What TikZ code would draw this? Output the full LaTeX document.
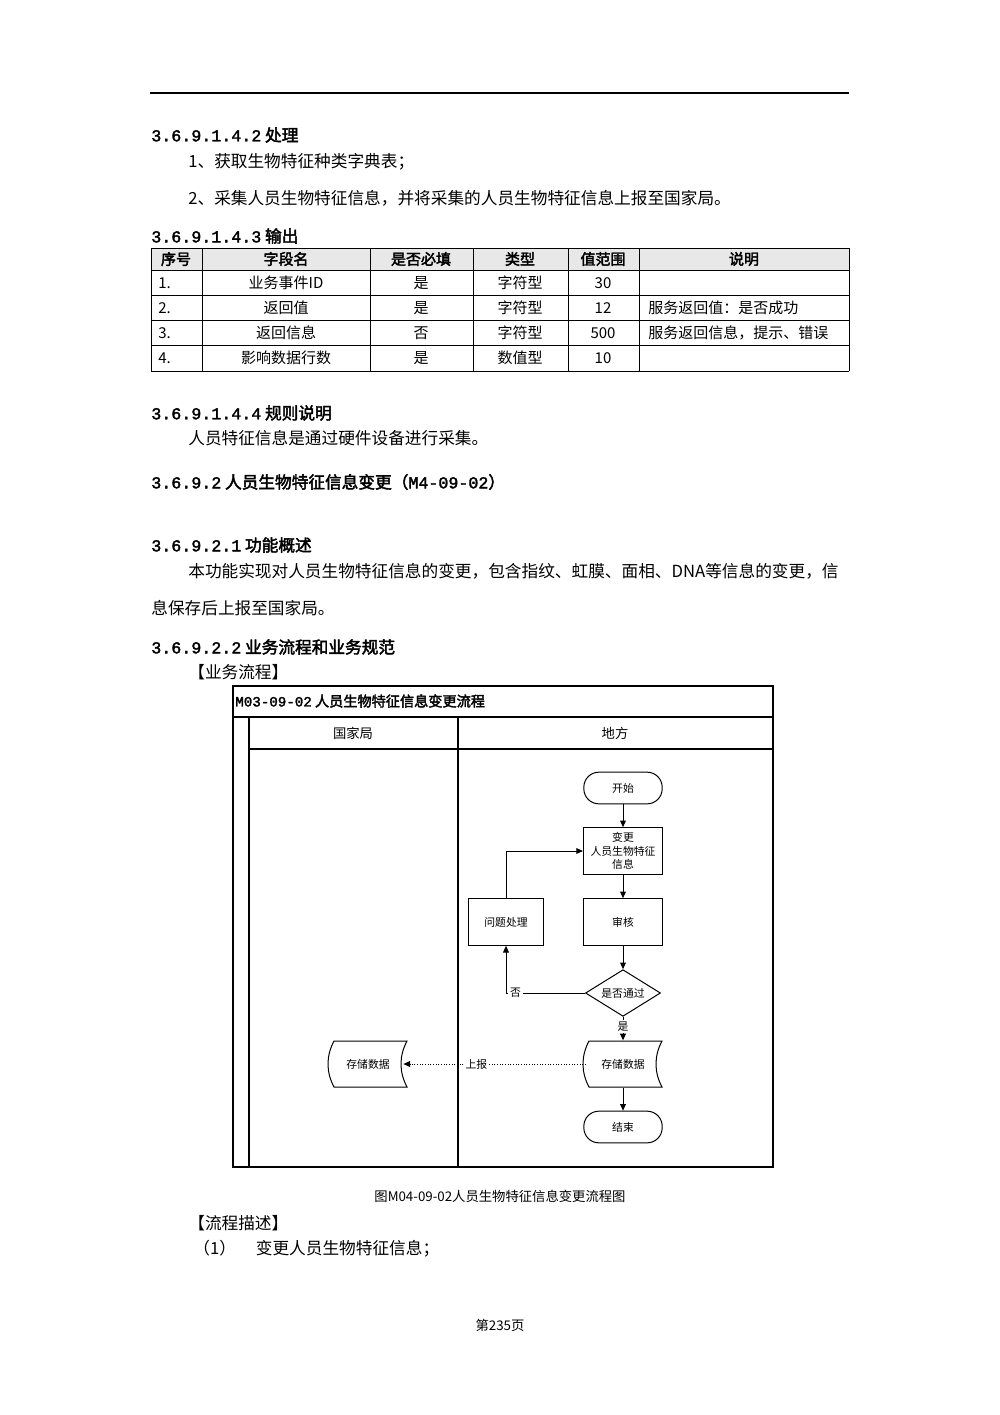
\documentclass[tikz,border=0pt]{standalone}
\usepackage{fontspec}
\setmainfont[BoldFont={Noto Sans CJK SC},BoldFeatures={FakeBold=2.5}]{Noto Sans CJK SC}
\newfontfamily\hmono[BoldFont={Liberation Mono},BoldFeatures={FakeBold=2}]{Liberation Mono}
\usetikzlibrary{shapes.geometric,arrows.meta}
\tikzset{
 txt/.style={anchor=west,inner sep=0pt,font=\fontsize{10}{12}\selectfont},
 hd/.style={anchor=west,inner sep=0pt,font=\fontsize{10}{12}\selectfont\bfseries},
 cell/.style={inner sep=0pt,font=\fontsize{9}{11}\selectfont},
 fc/.style={draw,line width=0.6pt,fill=white,inner sep=1pt,font=\fontsize{6.5}{8}\selectfont,align=center},
 pbox/.style={fc,minimum width=47.5pt,minimum height=28pt},
 term/.style={fc,rounded corners=9pt,minimum width=47pt,minimum height=19pt},
 arr/.style={-{Triangle[length=4pt,width=3.5pt]},line width=0.6pt},
 lbl/.style={inner sep=1pt,font=\fontsize{6.5}{8}\selectfont,fill=white},
}
\begin{document}
\begin{tikzpicture}[x=0.6pt,y=-0.6pt]
\useasboundingbox (0,0) rectangle (1000,1415);
\draw[line width=0.8pt] (150,93) -- (849,93);
\node[hd] (h1) at (151,135) {{\hmono 3.6.9.1.4.2} 处理};
\node[txt] (p1) at (188,162) {1、获取生物特征种类字典表；};
\node[txt] (p2) at (188,198) {2、采集人员生物特征信息，并将采集的人员生物特征信息上报至国家局。};
\node[hd] (h2) at (151,236) {{\hmono 3.6.9.1.4.3} 输出};
% table
\fill[gray!18] (151,248) rectangle (849,270);
\foreach \y in {248,270,295,320,345,371} \draw[line width=0.6pt] (151,\y) -- (849,\y);
\foreach \x in {151,202,370,473,568,639,849} \draw[line width=0.6pt] (\x,248) -- (\x,371);
\foreach \x/\t in {176/序号,286/字段名,421/是否必填,520/类型,603/值范围,744/说明}
  \node[cell,font=\fontsize{9}{11}\selectfont\bfseries] at (\x,259) {\t};
\foreach \y/\a/\b/\c/\d/\e/\f in {283/1./业务事件ID/是/字符型/30/,308/2./返回值/是/字符型/12/服务返回值：是否成功,333/3./返回信息/否/字符型/500/服务返回信息，提示、错误,358/4./影响数据行数/是/数值型/10/}{
  \node[cell,anchor=west] at (158,\y) {\a};
  \node[cell] at (286,\y) {\b};
  \node[cell] at (421,\y) {\c};
  \node[cell] at (520,\y) {\d};
  \node[cell] at (603,\y) {\e};
  \node[cell,anchor=west] at (648,\y) {\f};
}
\node[hd] (h3) at (151,413) {{\hmono 3.6.9.1.4.4} 规则说明};
\node[txt] (p3) at (188,438) {人员特征信息是通过硬件设备进行采集。};
\node[hd] (h4) at (151,482) {{\hmono 3.6.9.2} 人员生物特征信息变更（{\hmono M4-09-02}）};
\node[hd] (h5) at (151,545) {{\hmono 3.6.9.2.1} 功能概述};
\node[txt] (p4) at (188,571) {\makebox[403pt][s]{本功能实现对人员生物特征信息的变更，包含指纹、虹膜、面相、DNA等信息的变更，信}};
\node[txt] (p5) at (151,608) {息保存后上报至国家局。};
\node[hd] (h6) at (151,647) {{\hmono 3.6.9.2.2} 业务流程和业务规范};
\node[txt] (p6) at (188,672) {【业务流程】};
% flowchart frame
\draw[line width=0.7pt] (233,686) rectangle (773,1167);
\draw[line width=0.7pt] (233,717) -- (773,717);
\draw[line width=0.7pt] (249,749) -- (773,749);
\draw[line width=0.7pt] (249,717) -- (249,1167);
\draw[line width=0.7pt] (458,717) -- (458,1167);
\node[anchor=west,inner sep=0pt,font=\fontsize{8.5}{10}\selectfont\bfseries] (ttl) at (235,701) {{\hmono M03-09-02} 人员生物特征信息变更流程};
\node[cell,font=\fontsize{8}{10}\selectfont] (l1) at (353,733) {国家局};
\node[cell,font=\fontsize{8}{10}\selectfont] (l2) at (615,733) {地方};
% nodes
\node[term] (start) at (623,788) {开始};
\node[pbox] (chg) at (623,851) {变更\\人员生物特征\\信息};
\node[pbox] (aud) at (623,922) {审核};
\node[pbox,minimum width=45pt] (fix) at (506,922) {问题处理};
\node[fc,diamond,aspect=1.6,minimum width=45pt,minimum height=28pt,inner sep=0pt] (dec) at (623,993) {是否通过};
\node[term] (end) at (623,1127) {结束};
% storage shapes
\newcommand{\storeshape}[3]{%
 \draw[line width=0.6pt,fill=white] (#1-34,#2-23) -- (#1+39,#2-23) .. controls (#1+31,#2-8) and (#1+31,#2+8) .. (#1+39,#2+23) -- (#1-34,#2+23) .. controls (#1-42,#2+8) and (#1-42,#2-8) .. (#1-34,#2-23) -- cycle;
 \node[inner sep=0pt,font=\fontsize{6.5}{8}\selectfont,minimum width=38pt,minimum height=28pt] (#3) at (#1,#2) {存储数据};}
\storeshape{623}{1064}{st1}
\storeshape{368}{1064}{st2}
% connectors
\draw[arr] (start) -- (chg);
\draw[arr] (chg) -- (aud);
\draw[arr] (aud) -- (dec);
\draw[arr] (dec.west) -| (fix.south);
\node[lbl,fill=white,anchor=west] (no) at (508,993) {否};
\draw[arr] (fix.north) |- (chg.west);
\draw[arr] (dec.south) -- node[lbl,pos=0.4]{是} (st1.north);
\draw[arr] (st1.south) -- (end);
\draw[arr,densely dotted] ([xshift=-3pt]st1.west) -- node[lbl,pos=0.6]{上报} ([xshift=2pt]st2.east);
\node[cell,font=\fontsize{8}{10}\selectfont] (cap) at (500,1196) {图M04-09-02人员生物特征信息变更流程图};
\node[txt] (p7) at (188,1223) {【流程描述】};
\node[txt] (p8) at (193,1249) {（1）\hspace{12pt}变更人员生物特征信息；};
\node[cell,font=\fontsize{8}{10}\selectfont] (pg) at (500,1325) {第235页};
\end{tikzpicture}
\end{document}
